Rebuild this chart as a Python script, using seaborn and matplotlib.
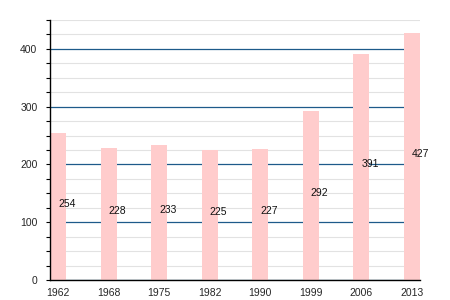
import matplotlib
matplotlib.use("Agg")
import matplotlib.pyplot as plt
import seaborn as sns
import pandas as pd
from matplotlib.ticker import MultipleLocator

years = ["1962", "1968", "1975", "1982", "1990", "1999", "2006", "2013"]
population = [254, 228, 233, 225, 227, 292, 391, 427]

df = pd.DataFrame({"year": years, "pop": population})

sns.set_style("white")
plt.rcParams['font.family'] = ['Liberation Sans', 'DejaVu Sans']

fig = plt.figure(figsize=(4.5, 3), dpi=100)
ax = fig.add_axes([50/450, 20/300, 370/450, 260/300])

ax.set_axisbelow(True)
ax.yaxis.set_major_locator(MultipleLocator(100))
ax.yaxis.set_minor_locator(MultipleLocator(25))
ax.grid(which="minor", axis="y", color="#e2e2e2", linewidth=0.8)
ax.grid(which="major", axis="y", color="#1d5a8a", linewidth=0.9)
ax.grid(which="both", axis="x", visible=False)

sns.barplot(data=df, x="year", y="pop", color="#ffcccc", saturation=1,
            width=0.32, ax=ax, zorder=2)
for p in ax.patches:
    p.set_edgecolor("none")

for i, v in enumerate(population):
    ax.text(i, v / 2, str(v), ha="left", va="baseline", fontsize=7.5,
            color="#111111", zorder=3)

ax.set_xlim(-0.16, 7.16)
ax.set_ylim(0, 450)
ax.set_xlabel("")
ax.set_ylabel("")

for s in ["top", "right"]:
    ax.spines[s].set_visible(False)
for s in ["left", "bottom"]:
    ax.spines[s].set_color("black")
    ax.spines[s].set_linewidth(1.0)

ax.tick_params(axis="y", which="major", left=True, length=3, width=0.8,
               labelsize=7.5, pad=6, color="black")
ax.tick_params(axis="y", which="minor", left=True, length=3, width=0.8,
               color="black")
ax.tick_params(axis="x", bottom=False, labelsize=7.5, pad=2)

fig.savefig("out.png", dpi=100)
